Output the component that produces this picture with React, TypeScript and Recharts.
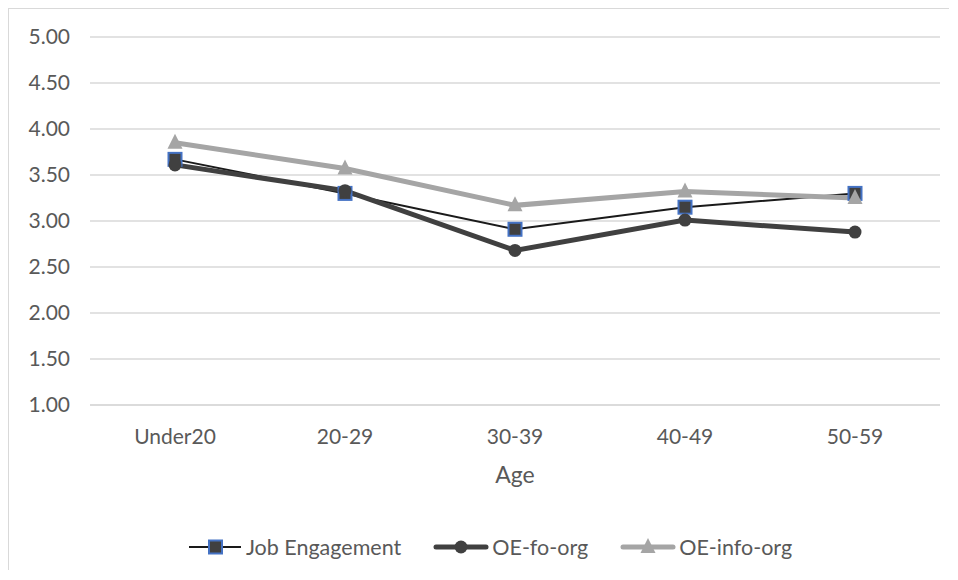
import React from 'react';
import { LineChart, Line, XAxis, YAxis, CartesianGrid, Legend } from 'recharts';

const categories = ['Under20', '20-29', '30-39', '40-49', '50-59'];
const jobEngagement = [3.67, 3.3, 2.91, 3.15, 3.3];
const oeFoOrg = [3.61, 3.33, 2.68, 3.01, 2.88];
const oeInfoOrg = [3.85, 3.57, 3.17, 3.32, 3.25];
const yTicks = [1, 1.5, 2, 2.5, 3, 3.5, 4, 4.5, 5];

const data = categories.map((c, i) => ({
  age: c,
  je: jobEngagement[i],
  fo: oeFoOrg[i],
  info: oeInfoOrg[i],
}));

const FONT = 'Lato, "Noto Sans", sans-serif';
const TEXT = '#595959';

const SquareDot = (props: any) => {
  const { cx, cy, key } = props;
  if (cx == null || cy == null) return null;
  return <rect key={key} x={cx - 6.5} y={cy - 6.5} width={13} height={13} fill="#404040" stroke="#4472C4" strokeWidth={2} />;
};
const CircleDot = (props: any) => {
  const { cx, cy, key } = props;
  if (cx == null || cy == null) return null;
  return <circle key={key} cx={cx} cy={cy} r={6.5} fill="#404040" />;
};
const TriDot = (props: any) => {
  const { cx, cy, key } = props;
  if (cx == null || cy == null) return null;
  return <polygon key={key} points={`${cx},${cy - 9} ${cx + 7.5},${cy + 6} ${cx - 7.5},${cy + 6}`} fill="#A5A5A5" />;
};

const LegendContent = () => {
  const item = (icon: React.ReactNode, label: string, gapAfter: number) => (
    <div style={{ display: 'flex', alignItems: 'center', marginRight: gapAfter }}>
      <svg width={56} height={20} style={{ marginRight: 3 }}>{icon}</svg>
      <span style={{ fontFamily: FONT, fontSize: 21.5, color: TEXT }}>{label}</span>
    </div>
  );
  return (
    <div style={{ display: 'flex', justifyContent: 'center', alignItems: 'center', height: 30, paddingLeft: 30 }}>
      {item(
        <g>
          <line x1={2} y1={10} x2={54} y2={10} stroke="#1a1a1a" strokeWidth={2} />
          <rect x={22} y={3.5} width={13} height={13} fill="#404040" stroke="#4472C4" strokeWidth={2} />
        </g>,
        'Job Engagement',
        32
      )}
      {item(
        <g>
          <line x1={3} y1={10} x2={53} y2={10} stroke="#404040" strokeWidth={5} strokeLinecap="round" />
          <circle cx={28} cy={10} r={6.5} fill="#404040" />
        </g>,
        'OE-fo-org',
        32
      )}
      {item(
        <g>
          <line x1={3} y1={10} x2={53} y2={10} stroke="#A5A5A5" strokeWidth={5} strokeLinecap="round" />
          <polygon points="28,1 35.5,16 20.5,16" fill="#A5A5A5" />
        </g>,
        'OE-info-org',
        0
      )}
    </div>
  );
};

export default function App() {
  return (
    <div
      style={{
        margin: '-1px 0 0 -1px',
        borderTop: '2px solid #d9d9d9',
        borderLeft: '2px solid #d9d9d9',
        width: 940,
        height: 561,
        background: '#fff',
      }}
    >
      <LineChart width={940} height={561} data={data} margin={{ top: 28, right: 9, left: 0, bottom: 0 }}>
        <CartesianGrid vertical={false} stroke="#d9d9d9" strokeWidth={1.5} />
        <XAxis
          dataKey="age"
          padding={{ left: 85, right: 85 }}
          axisLine={{ stroke: '#d9d9d9', strokeWidth: 1.5 }}
          tickLine={false}
          tickSize={6}
          tickMargin={18}
          height={135}
          tick={{ fill: TEXT, fontFamily: FONT, fontSize: 21 }}
          label={{ value: 'Age', position: 'insideBottom', offset: 57, fill: TEXT, fontFamily: FONT, fontSize: 23 }}
        />
        <YAxis
          domain={[1, 5]}
          ticks={yTicks}
          interval={0}
          width={81}
          axisLine={false}
          tickLine={false}
          tickSize={6}
          tickMargin={14}
          tickFormatter={(v: number) => v.toFixed(2)}
          tick={{ fill: TEXT, fontFamily: FONT, fontSize: 21 }}
        />
        <Legend verticalAlign="bottom" content={<LegendContent />} wrapperStyle={{ height: 30, bottom: 8 }} />
        <Line dataKey="je" name="Job Engagement" stroke="#1a1a1a" strokeWidth={2} dot={SquareDot} activeDot={false} isAnimationActive={false} />
        <Line dataKey="fo" name="OE-fo-org" stroke="#404040" strokeWidth={5} dot={CircleDot} activeDot={false} isAnimationActive={false} />
        <Line dataKey="info" name="OE-info-org" stroke="#A5A5A5" strokeWidth={5} dot={TriDot} activeDot={false} isAnimationActive={false} />
      </LineChart>
    </div>
  );
}
